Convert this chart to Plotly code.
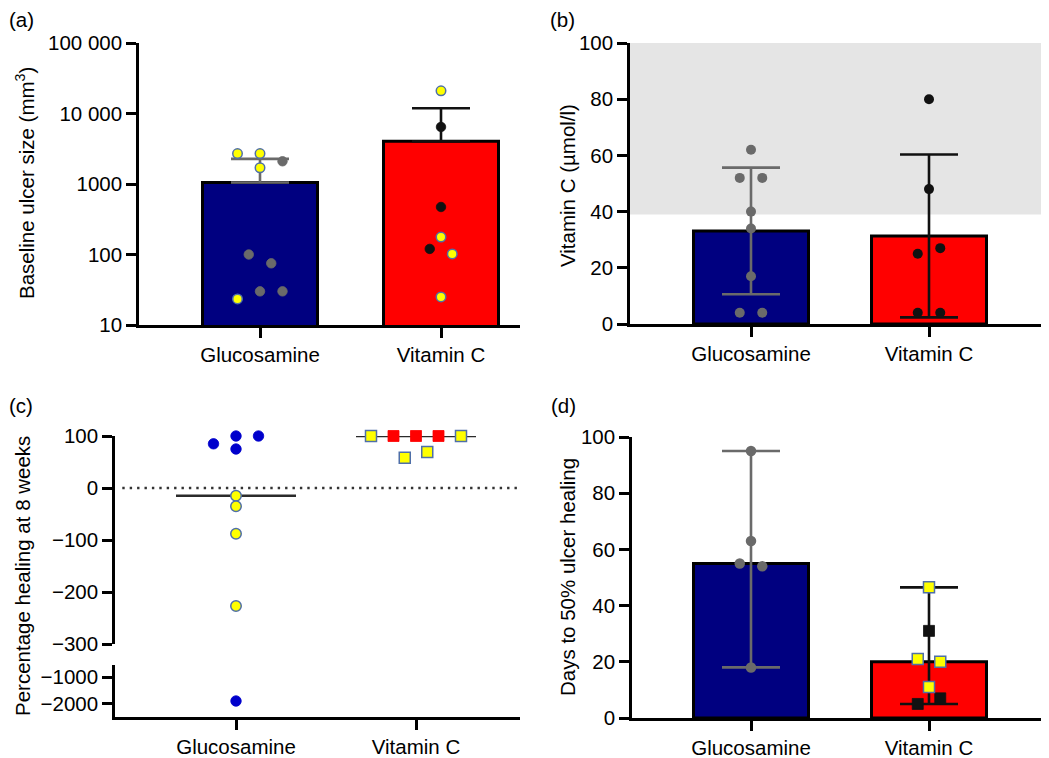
import math
import plotly.graph_objects as go

# page body has an 8px margin: the figure starts 8px in, and fills the rest of the window
OFF = 8
W, H = 1049 - OFF, 758 - OFF

# ---------------- data ----------------
groups = ["Glucosamine", "Vitamin C"]

# (a) Baseline ulcer size (mm3); flag 1 = highlighted (yellow) patient
a_gluc_values = [2700, 2700, 2100, 1700, 100, 75, 23.4, 30, 30]
a_gluc_flag = [1, 1, 0, 1, 0, 0, 1, 0, 0]
a_vitc_values = [21000, 6440, 472, 177, 120, 102, 25]
a_vitc_flag = [1, 0, 0, 1, 0, 1, 1]
a_tickvals = [10, 100, 1000, 10000, 100000]
a_ticktext = ["10", "100", "1000", "10 000", "100 000"]

# (b) Vitamin C (umol/l)
b_gluc_values = [62, 52, 52, 40, 34, 17, 4, 4]
b_vitc_values = [80, 48, 25, 27, 4, 4]
b_normal_range = [39, 100]
lin_tickvals = [0, 20, 40, 60, 80, 100]

# (c) Percentage healing at 8 weeks
c_gluc_values = [85, 100, 100, 75, -15, -35, -88, -227, -1900]
c_gluc_flag = [0, 0, 0, 0, 1, 1, 1, 1, 0]
c_vitc_values = [100, 100, 100, 100, 100, 58, 69]
c_vitc_flag = [1, 0, 0, 0, 1, 1, 1]
c_upper_ticks = [100, 0, -100, -200, -300]
c_upper_text = ["100", "0", "\u2212100", "\u2212200", "\u2212300"]
c_lower_ticks = [-1000, -2000]
c_lower_text = ["\u22121000", "\u22122000"]

# (d) Days to 50% ulcer healing
d_gluc_values = [95, 63, 55, 54, 18]
d_vitc_values = [46.5, 31, 21, 20, 11, 5, 7]
d_vitc_flag = [1, 0, 1, 1, 1, 0, 0]

# ---------------- styles / layout boxes (window pixels) ----------------
NAVY, RED = "#000080", "#ff0000"
GRAY, BLACK, BLUE = "#6a6a6a", "#111111", "#0000cc"
YEL, YEL_LINE = "#ffff00", "#4f6fa8"
FONT = "Liberation Sans, Arial, Helvetica, sans-serif"
FS = 20.5

# box: (x_left, x_right, y_top, y_bottom), category centres in px
BOX_A = (139, 520, 43, 325); CAT_A = (260, 441); RNG_A = (1, 5)
BOX_B = (630, 1046, 43, 324); CAT_B = (751, 929); RNG_B = (0, 100)
BOX_CU = (115, 520, 436, 644); CAT_C = (236, 416); RNG_CU = (-300, 100)
BOX_CL = (115, 520, 665, 717); RNG_CL = (-2500, -550)
BOX_D = (632, 1046, 437, 718); CAT_D = (751, 929); RNG_D = (0, 100)
BAR_PX = 115
STEP_PX = 22.5
ROW_TOL = 9.5


def fx(px):
    return min(1.0, max(0.0, (px - OFF) / W))


def fy(px):
    return min(1.0, max(0.0, 1 - (px - OFF) / H))


def mean(v):
    return sum(v) / len(v)


def sd(v):
    m = mean(v)
    return math.sqrt(sum((x - m) ** 2 for x in v) / (len(v) - 1))


def median(v):
    s = sorted(v)
    n = len(s)
    return s[n // 2] if n % 2 else (s[n // 2 - 1] + s[n // 2]) / 2


def to_px(v, box, rng, log=False):
    val = math.log10(v) if log else v
    return box[2] + (rng[1] - val) / (rng[1] - rng[0]) * (box[3] - box[2])


def swarm(values, pxf, unit_px):
    ys = [pxf(v) for v in values]
    order = sorted(range(len(values)), key=lambda i: (ys[i], i))
    rows = []
    for i in order:
        if rows and ys[i] - ys[rows[-1][0]] <= ROW_TOL:
            rows[-1].append(i)
        else:
            rows.append([i])
    off = [0.0] * len(values)
    for r in rows:
        r = sorted(r)
        n = len(r)
        for k, i in enumerate(r):
            off[i] = (k - (n - 1) / 2) * STEP_PX / unit_px
    return off


def c_px(v):
    if v >= RNG_CU[0]:
        return to_px(v, BOX_CU, RNG_CU)
    return to_px(v, BOX_CL, RNG_CL)


fig = go.Figure()

AX = dict(showline=True, linecolor="black", linewidth=2.6, ticks="outside",
          ticklen=10, tickwidth=2.6, tickcolor="black", showgrid=False,
          zeroline=False, automargin=False,
          tickfont=dict(size=FS, color="black", family=FONT),
          fixedrange=True)


def xaxis(box, cat, anchor):
    unit = cat[1] - cat[0]
    return dict(domain=[fx(box[0]), fx(box[1])],
                range=[(box[0] - cat[0]) / unit, (box[1] - cat[0]) / unit],
                anchor=anchor, tickvals=[0, 1], ticktext=groups, **AX)


def yaxis(box, rng, anchor, tv, tt=None, log=False):
    d = dict(domain=[fy(box[3]), fy(box[2])], range=list(rng),
             anchor=anchor, tickvals=tv, **AX)
    if tt is not None:
        d["ticktext"] = tt
    if log:
        d["type"] = "log"
    return d


def add_bars(vals, xa, ya, unit):
    fig.add_trace(go.Bar(x=[0, 1], y=vals, width=BAR_PX / unit,
                         marker=dict(color=[NAVY, RED], line=dict(color="black", width=3)),
                         xaxis=xa, yaxis=ya, hoverinfo="skip"))


def add_err(xi, yv, up, down, color, xa, ya):
    fig.add_trace(go.Scatter(x=[xi], y=[yv], mode="markers",
                             marker=dict(color="rgba(0,0,0,0)", size=1),
                             error_y=dict(type="data", symmetric=False, array=[up],
                                          arrayminus=[down], color=color,
                                          thickness=2.6, width=29),
                             xaxis=xa, yaxis=ya, cliponaxis=False, hoverinfo="skip"))


def add_pts(xs, ys, color, symbol, size, line_color, line_w, xa, ya):
    if not xs:
        return
    fig.add_trace(go.Scatter(x=xs, y=ys, mode="markers",
                             marker=dict(color=color, symbol=symbol, size=size,
                                         line=dict(color=line_color, width=line_w)),
                             xaxis=xa, yaxis=ya, cliponaxis=False, hoverinfo="skip"))


def split_pts(gi, vals, offs, flags, xa, ya, colors, symbol, size, yfilter=None):
    for f, col in colors.items():
        xs, ys = [], []
        for v, o, fl in zip(vals, offs, flags):
            if fl == f and (yfilter is None or yfilter(v)):
                xs.append(gi + o)
                ys.append(v)
        if f == 1:
            add_pts(xs, ys, YEL, symbol, size, YEL_LINE, 1.5, xa, ya)
        else:
            add_pts(xs, ys, col, symbol, size, col, 0.8, xa, ya)


# ---------------- panel (a) ----------------
ua = CAT_A[1] - CAT_A[0]
pa = lambda v: to_px(v, BOX_A, RNG_A, log=True)
add_bars([mean(a_gluc_values), mean(a_vitc_values)], "x", "y", ua)
add_err(0, mean(a_gluc_values), sd(a_gluc_values), 0, GRAY, "x", "y")
add_err(1, mean(a_vitc_values), sd(a_vitc_values), 0, BLACK, "x", "y")
split_pts(0, a_gluc_values, swarm(a_gluc_values, pa, ua), a_gluc_flag, "x", "y",
          {0: GRAY, 1: YEL}, "circle", 9.5)
split_pts(1, a_vitc_values, swarm(a_vitc_values, pa, ua), a_vitc_flag, "x", "y",
          {0: BLACK, 1: YEL}, "circle", 9.5)

# ---------------- panel (b) ----------------
ub = CAT_B[1] - CAT_B[0]
pb = lambda v: to_px(v, BOX_B, RNG_B)
add_bars([mean(b_gluc_values), mean(b_vitc_values)], "x2", "y2", ub)
add_err(0, mean(b_gluc_values), sd(b_gluc_values), sd(b_gluc_values), GRAY, "x2", "y2")
add_err(1, mean(b_vitc_values), sd(b_vitc_values), sd(b_vitc_values), BLACK, "x2", "y2")
ob = swarm(b_gluc_values, pb, ub)
add_pts([0 + o for o in ob], b_gluc_values, GRAY, "circle", 10, GRAY, 0, "x2", "y2")
ob2 = swarm(b_vitc_values, pb, ub)
add_pts([1 + o for o in ob2], b_vitc_values, BLACK, "circle", 10, BLACK, 0, "x2", "y2")

# ---------------- panel (c) ----------------
uc = CAT_C[1] - CAT_C[0]
med_half = 60 / uc
for gi, vals in enumerate([c_gluc_values, c_vitc_values]):
    m = median(vals)
    fig.add_trace(go.Scatter(x=[gi - med_half, gi + med_half], y=[m, m], mode="lines",
                             line=dict(color="#2b2b2b", width=2.6),
                             xaxis="x3", yaxis="y3", cliponaxis=False, hoverinfo="skip"))
ocg = swarm(c_gluc_values, c_px, uc)
upper = lambda v: v >= RNG_CU[0]
lower = lambda v: v < RNG_CU[0]
split_pts(0, c_gluc_values, ocg, c_gluc_flag, "x3", "y3", {0: BLUE, 1: YEL}, "circle", 10.5, upper)
split_pts(0, c_gluc_values, ocg, c_gluc_flag, "x3", "y4", {0: BLUE, 1: YEL}, "circle", 10.5, lower)
ocv = swarm(c_vitc_values, c_px, uc)
split_pts(1, c_vitc_values, ocv, c_vitc_flag, "x3", "y3", {0: RED, 1: YEL}, "square", 11, upper)

# ---------------- panel (d) ----------------
ud = CAT_D[1] - CAT_D[0]
pdx = lambda v: to_px(v, BOX_D, RNG_D)
mg, mv = median(d_gluc_values), median(d_vitc_values)
add_bars([mg, mv], "x4", "y5", ud)
add_err(0, mg, max(d_gluc_values) - mg, mg - min(d_gluc_values), GRAY, "x4", "y5")
add_err(1, mv, max(d_vitc_values) - mv, mv - min(d_vitc_values), BLACK, "x4", "y5")
odg = swarm(d_gluc_values, pdx, ud)
add_pts([0 + o for o in odg], d_gluc_values, GRAY, "circle", 10.5, GRAY, 0, "x4", "y5")
odv = swarm(d_vitc_values, pdx, ud)
split_pts(1, d_vitc_values, odv, d_vitc_flag, "x4", "y5", {0: BLACK, 1: YEL}, "square", 11)

# ---------------- layout ----------------
shapes = [
    dict(type="rect", xref="x2 domain", yref="y2", x0=0, x1=1,
         y0=b_normal_range[0], y1=b_normal_range[1], fillcolor="#e5e5e5",
         line=dict(width=0), layer="below"),
    dict(type="line", xref="x3 domain", yref="y3", x0=0.018, x1=1, y0=0, y1=0,
         line=dict(color="#333333", width=2.4, dash="2.4px,5px"), layer="below"),
]


def ann(text, xpx, ypx, angle=0, size=FS):
    return dict(text=text, x=fx(xpx), y=fy(ypx), xref="paper", yref="paper",
                showarrow=False, textangle=angle, xanchor="center", yanchor="middle",
                font=dict(size=size, color="black", family=FONT))


annotations = [
    ann("(a)", 21, 19), ann("(b)", 562, 19), ann("(c)", 21, 406), ann("(d)", 563, 406),
    ann("Baseline ulcer size (mm<sup>3</sup>)", 25, 183, -90),
    ann("Vitamin C (\u00b5mol/l)", 567, 186, -90),
    ann("Percentage healing at 8 weeks", 22, 576, -90),
    ann("Days to 50% ulcer healing", 567, 577, -90),
]

fig.update_layout(
    template="none",
    width=W, height=H, margin=dict(l=0, r=0, t=0, b=0, pad=0), autosize=False,
    paper_bgcolor="white", plot_bgcolor="rgba(0,0,0,0)",
    showlegend=False, font=dict(family=FONT, size=FS, color="black"),
    barmode="overlay",
    xaxis=xaxis(BOX_A, CAT_A, "y"),
    yaxis=yaxis(BOX_A, RNG_A, "x", a_tickvals, a_ticktext, log=True),
    xaxis2=xaxis(BOX_B, CAT_B, "y2"),
    yaxis2=yaxis(BOX_B, RNG_B, "x2", lin_tickvals),
    xaxis3=xaxis(BOX_CU, CAT_C, "y4"),
    yaxis3=yaxis(BOX_CU, RNG_CU, "x3", c_upper_ticks, c_upper_text),
    yaxis4=yaxis(BOX_CL, RNG_CL, "x3", c_lower_ticks, c_lower_text),
    xaxis4=xaxis(BOX_D, CAT_D, "y5"),
    yaxis5=yaxis(BOX_D, RNG_D, "x4", lin_tickvals),
    shapes=shapes, annotations=annotations,
)

fig.write_html("out.html")
